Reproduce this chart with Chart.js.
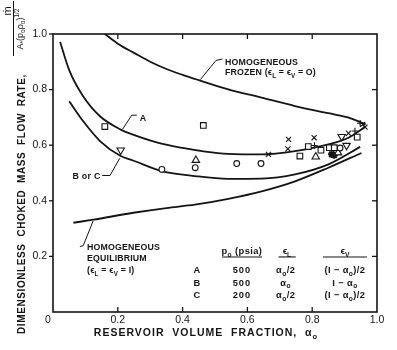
<!DOCTYPE html>
<html>
<head>
<meta charset="utf-8">
<script src="https://cdn.jsdelivr.net/npm/chart.js@4.4.1/dist/chart.umd.min.js"></script>
<style>
  html, body { margin: 0; padding: 0; background: #fff; }
  canvas { display: block; }
</style>
</head>
<body>
<canvas id="c" width="397" height="350"></canvas>
<script>
// ---- Axis ticks ----
const xTickValues = [0, 0.2, 0.4, 0.6, 0.8, 1.0];
const yTickValues = [0, 0.2, 0.4, 0.6, 0.8, 1.0];

// ---- Model curves: reservoir volume fraction vs dimensionless flow rate ----
const frozenAlpha = [0.16, 0.20, 0.25, 0.30, 0.35, 0.40, 0.45, 0.541, 0.644, 0.747, 0.85, 0.91, 0.965];
const frozenRate  = [1.00, 0.965, 0.932, 0.90, 0.874, 0.853, 0.834, 0.801, 0.771, 0.741, 0.715, 0.700, 0.675];

const curveAAlpha = [0.022, 0.05, 0.093, 0.145, 0.209, 0.247, 0.32, 0.40, 0.47, 0.541, 0.644, 0.747, 0.85, 0.912, 0.965];
const curveARate  = [0.971, 0.87, 0.776, 0.704, 0.656, 0.638, 0.610, 0.590, 0.577, 0.569, 0.567, 0.579, 0.603, 0.627, 0.667];

const curveBCAlpha = [0.05, 0.094, 0.145, 0.209, 0.247, 0.336, 0.438, 0.541, 0.644, 0.747, 0.85, 0.948];
const curveBCRate  = [0.758, 0.685, 0.615, 0.561, 0.545, 0.507, 0.489, 0.479, 0.480, 0.495, 0.531, 0.594];

const equilAlpha = [0.063, 0.124, 0.248, 0.35, 0.438, 0.541, 0.644, 0.747, 0.85, 0.952];
const equilRate  = [0.321, 0.332, 0.357, 0.374, 0.386, 0.407, 0.434, 0.470, 0.519, 0.572];

// ---- Measured points, grouped by symbol ----
const squareAlpha = [0.16, 0.464, 0.762, 0.788, 0.827, 0.853, 0.868, 0.939];
const squareRate  = [0.667, 0.671, 0.561, 0.595, 0.582, 0.591, 0.591, 0.629];

const circleAlpha = [0.336, 0.439, 0.567, 0.642, 0.886];
const circleRate  = [0.513, 0.519, 0.534, 0.534, 0.590];

const triUpAlpha = [0.441, 0.811, 0.88];
const triUpRate  = [0.546, 0.558, 0.573];

const triDownAlpha = [0.209, 0.891, 0.906];
const triDownRate  = [0.582, 0.631, 0.599];

const crossAlpha = [0.665, 0.727, 0.725, 0.806, 0.912, 0.956, 0.963];
const crossRate  = [0.567, 0.621, 0.587, 0.627, 0.643, 0.675, 0.665];

const plusAlpha = [0.807, 0.932, 0.948];
const plusRate  = [0.599, 0.651, 0.679];

const starAlpha = [0.86, 0.868];
const starRate  = [0.567, 0.564];

// ---- Table of test conditions ----
const caseLabels = ['A', 'B', 'C'];
const casePressure = ['500', '500', '200'];
const caseEpsL = [[['α', 'n'], ['o', 'sub'], ['/2', 'n']], [['α', 'n'], ['o', 'sub']], [['α', 'n'], ['o', 'sub'], ['/2', 'n']]];
const caseEpsV = [
  [['(I − α', 'n'], ['o', 'sub'], [')/2', 'n']],
  [['I − α', 'n'], ['o', 'sub']],
  [['(I − α', 'n'], ['o', 'sub'], [')/2', 'n']]
];

const INK = '#141414';
const FAM = '"Liberation Sans", Arial, sans-serif';

const pts = (xs, ys) => xs.map((v, i) => ({ x: v, y: ys[i] }));

function curve(xs, ys) {
  return {
    type: 'line', data: pts(xs, ys), borderColor: INK, borderWidth: 1.8,
    pointRadius: 0, fill: false, cubicInterpolationMode: 'monotone', order: 2
  };
}
function marks(xs, ys, style, radius, extra) {
  return Object.assign({
    type: 'scatter', data: pts(xs, ys), pointStyle: style, pointRadius: radius,
    borderColor: INK, backgroundColor: '#fff', pointBorderWidth: 1.1, borderWidth: 1.1, order: 1
  }, extra || {});
}

// Draw a run of text pieces with sub/superscripts; returns width
function rich(ctx, runs, x, y, size, opts) {
  opts = opts || {};
  const weight = opts.weight || 'bold';
  const spacing = opts.spacing || 0;
  const parts = runs.map(([t, k]) => {
    const s = k === 'n' ? size : size * 0.72;
    const dy = k === 'sub' ? size * 0.28 : (k === 'sup' ? -size * 0.42 : 0);
    ctx.font = `${weight} ${s}px ${FAM}`;
    ctx.letterSpacing = spacing + 'px';
    return { t, s, dy, w: ctx.measureText(t).width };
  });
  const total = parts.reduce((a, p) => a + p.w, 0);
  let cx = opts.align === 'center' ? x - total / 2 : (opts.align === 'right' ? x - total : x);
  ctx.textBaseline = 'alphabetic';
  ctx.textAlign = 'left';
  parts.forEach(p => {
    ctx.font = `${weight} ${p.s}px ${FAM}`;
    ctx.letterSpacing = spacing + 'px';
    ctx.fillText(p.t, cx, y + p.dy);
    cx += p.w;
  });
  ctx.letterSpacing = '0px';
  return total;
}

const decor = {
  id: 'decor',
  afterDraw(chart) {
    const { ctx, chartArea: a, scales: { x, y } } = chart;
    const P = (ax, ay) => [x.getPixelForValue(ax), y.getPixelForValue(ay)];
    const seg = (pts, w) => {
      ctx.beginPath();
      pts.forEach((p, i) => { const [px, py] = P(p[0], p[1]); i ? ctx.lineTo(px, py) : ctx.moveTo(px, py); });
      ctx.lineWidth = w || 1; ctx.stroke();
    };
    ctx.save();
    ctx.strokeStyle = INK; ctx.fillStyle = INK;

    // frame
    ctx.lineWidth = 1.6;
    ctx.strokeRect(a.left, a.top, a.right - a.left, a.bottom - a.top);

    // tick marks
    ctx.lineWidth = 1.3;
    const ln = (x1, y1, x2, y2) => { ctx.beginPath(); ctx.moveTo(x1, y1); ctx.lineTo(x2, y2); ctx.stroke(); };
    xTickValues.forEach(v => {
      if (v <= 0 || v >= 1) return;
      const px = x.getPixelForValue(v);
      ln(px, a.bottom, px, a.bottom - 5);
      ln(px, a.top, px, a.top + 5);
    });
    yTickValues.forEach(v => {
      if (v <= 0) return;
      const py = y.getPixelForValue(v);
      ln(a.left - 4, py, a.left, py);
      if (v < 1) ln(a.right - 5, py, a.right, py);
    });

    // shared origin label
    ctx.font = `normal 10.5px ${FAM}`;
    ctx.textAlign = 'center'; ctx.textBaseline = 'alphabetic';
    ctx.fillText('0', x.getPixelForValue(0) - 5, a.bottom + 11);

    // curve labels with leader lines
    const S = 8.8;
    let p = P(0.531, 0.89);
    rich(ctx, [['HOMOGENEOUS', 'n']], p[0], p[1], S, { spacing: 0.15 });
    p = P(0.531, 0.851);
    rich(ctx, [['FROZEN (ϵ', 'n'], ['L', 'sub'], [' = ϵ', 'n'], ['V', 'sub'], [' = O)', 'n']], p[0], p[1], S, { spacing: 0.15 });
    seg([[0.523, 0.91], [0.503, 0.905], [0.455, 0.836]]);

    p = P(0.268, 0.688);
    rich(ctx, [['A', 'n']], p[0], p[1], S);
    seg([[0.259, 0.708], [0.243, 0.708], [0.215, 0.658]]);

    p = P(0.147, 0.48);
    rich(ctx, [['B or C', 'n']], p[0], p[1], S, { align: 'right', spacing: 0.3 });
    seg([[0.152, 0.491], [0.176, 0.491], [0.206, 0.553]]);

    p = P(0.105, 0.224);
    rich(ctx, [['HOMOGENEOUS', 'n']], p[0], p[1], S, { spacing: 0.15 });
    p = P(0.105, 0.183);
    rich(ctx, [['EQUILIBRIUM', 'n']], p[0], p[1], S, { spacing: 0.15 });
    p = P(0.105, 0.140);
    rich(ctx, [['(ϵ', 'n'], ['L', 'sub'], [' = ϵ', 'n'], ['V', 'sub'], [' = I)', 'n']], p[0], p[1], S, { spacing: 0.2 });
    seg([[0.083, 0.236], [0.093, 0.238], [0.124, 0.328]]);

    // table of conditions
    const T = 9.3;
    p = P(0.583, 0.209);
    rich(ctx, [['p', 'n'], ['o', 'sub'], [' (psia)', 'n']], p[0], p[1], T, { align: 'center', spacing: 0.4 });
    p = P(0.722, 0.209);
    rich(ctx, [['ϵ', 'n'], ['L', 'sub']], p[0], p[1], T, { align: 'center' });
    p = P(0.901, 0.209);
    rich(ctx, [['ϵ', 'n'], ['V', 'sub']], p[0], p[1], T, { align: 'center' });
    seg([[0.522, 0.198], [0.645, 0.198]], 1.1);
    seg([[0.696, 0.198], [0.749, 0.198]], 1.1);
    seg([[0.833, 0.198], [0.969, 0.198]], 1.1);
    const rowY = [0.139, 0.094, 0.049];
    caseLabels.forEach((lab, i) => {
      let q = P(0.444, rowY[i]);
      rich(ctx, [[lab, 'n']], q[0], q[1], T, { align: 'center' });
      q = P(0.583, rowY[i]);
      rich(ctx, [[casePressure[i], 'n']], q[0], q[1], T, { align: 'center', spacing: 1 });
      q = P(0.718, rowY[i]);
      rich(ctx, caseEpsL[i], q[0], q[1], T, { align: 'center', spacing: 0.4 });
      q = P(0.901, rowY[i]);
      rich(ctx, caseEpsV[i], q[0], q[1], T, { align: 'center', spacing: 0.4 });
    });

    // x-axis title
    rich(ctx, [['RESERVOIR  VOLUME  FRACTION,  α', 'n'], ['o', 'sub']], 206, 336, 10.5, { align: 'center', spacing: 1 });

    // y-axis title (rotated)
    ctx.save();
    ctx.translate(25, 204);
    ctx.rotate(-Math.PI / 2);
    rich(ctx, [['DIMENSIONLESS  CHOKED  MASS  FLOW  RATE,', 'n']], 0, 0, 10, { align: 'center', spacing: 0.6 });
    ctx.restore();

    // flow-rate group as a fraction
    ctx.save();
    ctx.translate(0, 57);
    ctx.rotate(-Math.PI / 2);
    rich(ctx, [['ṁ', 'n']], 46, 10.5, 11, { align: 'center', weight: 'normal' });
    ctx.lineWidth = 1;
    ctx.beginPath(); ctx.moveTo(1, 13.5); ctx.lineTo(56, 13.5); ctx.stroke();
    rich(ctx, [['A', 'n'], ['*', 'sub'], ['(p', 'n'], ['o', 'sub'], ['ρ', 'n'], ['o', 'sub'], [')', 'n'], ['1/2', 'sup']], 28, 22.5, 9, { align: 'center', weight: 'normal' });
    ctx.restore();

    ctx.restore();
  }
};

new Chart(document.getElementById('c'), {
  data: {
    datasets: [
      marks(squareAlpha, squareRate, 'rect', 4.0),
      marks(circleAlpha, circleRate, 'circle', 2.9),
      marks(triUpAlpha, triUpRate, 'triangle', 4.3),
      marks(triDownAlpha, triDownRate, 'triangle', 4.3, { rotation: 180 }),
      marks(crossAlpha, crossRate, 'crossRot', 3.6),
      marks(plusAlpha, plusRate, 'cross', 3.2),
      marks(starAlpha, starRate, 'star', 3.6, { pointBorderWidth: 2, borderWidth: 2 }),
      curve(frozenAlpha, frozenRate),
      curve(curveAAlpha, curveARate),
      curve(curveBCAlpha, curveBCRate),
      curve(equilAlpha, equilRate)
    ]
  },
  options: {
    responsive: false,
    animation: false,
    layout: { padding: { top: 34, right: 20, left: 0, bottom: 0 } },
    plugins: { legend: { display: false }, tooltip: { enabled: false } },
    scales: {
      x: {
        type: 'linear', min: 0, max: 1,
        afterBuildTicks: s => { s.ticks = xTickValues.map(v => ({ value: v })); },
        afterFit: s => { s.height = 38; },
        grid: { display: false, drawTicks: false },
        border: { display: false },
        ticks: {
          color: INK, padding: 2, maxRotation: 0,
          font: { family: FAM, size: 10.5 },
          callback: v => (v === 0 ? '' : v.toFixed(1))
        }
      },
      y: {
        type: 'linear', min: 0, max: 1,
        afterBuildTicks: s => { s.ticks = yTickValues.map(v => ({ value: v })); },
        afterFit: s => { s.width = 53; },
        grid: { display: false, drawTicks: false },
        border: { display: false },
        ticks: {
          color: INK, padding: 6,
          font: { family: FAM, size: 10.5 },
          callback: v => (v === 0 ? '' : v.toFixed(1))
        }
      }
    }
  },
  plugins: [decor]
});
</script>
</body>
</html>
